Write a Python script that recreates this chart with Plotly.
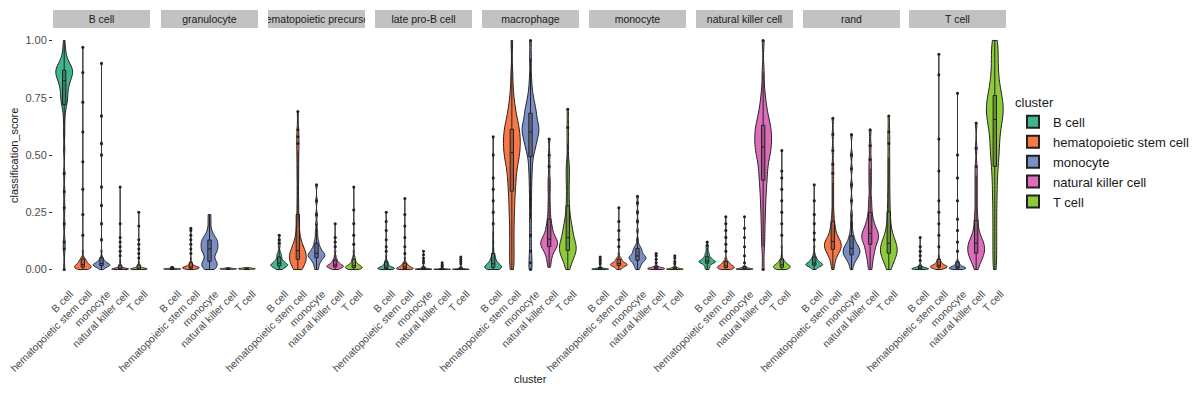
import numpy as np
import plotly.graph_objects as go

# ---------------- data ----------------
clusters = ["B cell", "hematopoietic stem cell", "monocyte", "natural killer cell", "T cell"]
facets = ["B cell", "granulocyte", "hematopoietic precursor", "late pro-B cell",
          "macrophage", "monocyte", "natural killer cell", "rand", "T cell"]
colors = ["#3FB68B", "#FA7747", "#7B8EC6", "#DE6CBA", "#8DCB3B"]
y_tickvals = [0, 0.25, 0.5, 0.75, 1.0]
y_ticktext = ["0.00", "0.25", "0.50", "0.75", "1.00"]

# facet "B cell"
bc_B = [0.0, 0.09, 0.12, 0.2, 0.27, 0.34, 0.42, 0.52, 0.6, 0.66, 0.7, 0.72, 0.73, 0.74, 0.75, 0.76,
        0.77, 0.78, 0.79, 0.8, 0.81, 0.82, 0.82, 0.83, 0.83, 0.84, 0.84, 0.85, 0.85, 0.86, 0.86, 0.86,
        0.87, 0.87, 0.87, 0.88, 0.88, 0.88, 0.89, 0.89, 0.9, 0.91, 0.92, 0.94, 0.96, 1.0]
bc_H = [0.0, 0.001, 0.002, 0.003, 0.004, 0.005, 0.006, 0.007, 0.008, 0.009, 0.01, 0.011, 0.012, 0.013,
        0.014, 0.015, 0.016, 0.017, 0.018, 0.019, 0.02, 0.021, 0.022, 0.024, 0.026, 0.028, 0.03, 0.032,
        0.034, 0.036, 0.038, 0.04, 0.043, 0.046, 0.05, 0.055,
        0.08, 0.15, 0.24, 0.35, 0.47, 0.6, 0.73, 0.86, 0.97]
bc_M = [0.0, 0.003, 0.006, 0.008, 0.01, 0.012, 0.013, 0.014, 0.015, 0.016, 0.017, 0.018, 0.019, 0.02,
        0.02, 0.021, 0.022, 0.023, 0.024, 0.025, 0.026, 0.027, 0.028, 0.03, 0.032, 0.034, 0.036, 0.038,
        0.041, 0.045, 0.05, 0.058,
        0.08, 0.13, 0.2, 0.28, 0.36, 0.5, 0.55, 0.67, 0.9]
bc_N = [0.0, 0.0, 0.0, 0.0005, 0.0005, 0.001, 0.001, 0.001, 0.0015, 0.0015, 0.002, 0.002, 0.002,
        0.0025, 0.003, 0.003, 0.0035, 0.004, 0.004, 0.005, 0.005, 0.006, 0.007, 0.008, 0.009, 0.01,
        0.012, 0.015, 0.02, 0.03,
        0.045, 0.06, 0.08, 0.1, 0.12, 0.14, 0.2, 0.36]
bc_T = [0.0, 0.0, 0.0005, 0.0005, 0.001, 0.001, 0.0015, 0.0015, 0.002, 0.002, 0.0025, 0.0025, 0.003,
        0.003, 0.0035, 0.004, 0.004, 0.0045, 0.005, 0.0055, 0.006, 0.007, 0.008, 0.009, 0.01, 0.012,
        0.014, 0.017, 0.02, 0.025,
        0.035, 0.05, 0.07, 0.09, 0.11, 0.13, 0.19, 0.25]

# facet "granulocyte"
gr_B = [0.0, 0.0005, 0.001, 0.001, 0.0015, 0.0015, 0.002, 0.002, 0.002, 0.0025, 0.0025, 0.003, 0.003,
        0.003, 0.0035, 0.0035, 0.004, 0.004, 0.0045, 0.005, 0.005, 0.006, 0.007, 0.008, 0.01]
gr_H = [0.0, 0.001, 0.002, 0.003, 0.004, 0.004, 0.005, 0.005, 0.006, 0.006, 0.007, 0.007, 0.008, 0.008,
        0.009, 0.009, 0.01, 0.01, 0.011, 0.012, 0.013, 0.014, 0.015, 0.016, 0.018, 0.02, 0.022, 0.025,
        0.03, 0.035,
        0.05, 0.07, 0.09, 0.11, 0.13, 0.15, 0.17, 0.18]
gr_M = [0.0, 0.005, 0.01, 0.015, 0.02, 0.025, 0.03, 0.035, 0.04, 0.05, 0.06, 0.07, 0.075, 0.08, 0.085,
        0.09, 0.095, 0.1, 0.105, 0.11, 0.115, 0.12, 0.125, 0.13, 0.135, 0.14, 0.15, 0.16, 0.18, 0.21, 0.24]
gr_N = [0.0, 0.0005, 0.001, 0.001, 0.0015, 0.0015, 0.002, 0.002, 0.0025, 0.0025, 0.003, 0.003, 0.003,
        0.0035, 0.0035, 0.004, 0.004, 0.0045, 0.005, 0.005, 0.0055, 0.006, 0.0065, 0.007, 0.008]
gr_T = [0.0, 0.0005, 0.001, 0.0015, 0.0015, 0.002, 0.002, 0.0025, 0.0025, 0.003, 0.003, 0.0035, 0.0035,
        0.004, 0.004, 0.0045, 0.0045, 0.005, 0.005, 0.0055, 0.006, 0.0065, 0.007, 0.0075, 0.008]

# facet "hematopoietic precursor"
hp_B = [0.0, 0.002, 0.005, 0.008, 0.01, 0.012, 0.014, 0.015, 0.016, 0.018, 0.019, 0.02, 0.021, 0.022,
        0.023, 0.025, 0.027, 0.029, 0.031, 0.033, 0.035, 0.038, 0.041, 0.045, 0.05, 0.055, 0.06, 0.065,
        0.07, 0.08,
        0.1, 0.115, 0.13, 0.15]
hp_H = [0.0, 0.005, 0.01, 0.015, 0.02, 0.025, 0.03, 0.033, 0.036, 0.04, 0.043, 0.046, 0.05, 0.053,
        0.056, 0.06, 0.063, 0.066, 0.07, 0.073, 0.076, 0.08, 0.085, 0.09, 0.095, 0.1, 0.11, 0.12, 0.13,
        0.15, 0.17, 0.19, 0.22, 0.26, 0.3, 0.35, 0.4, 0.44, 0.48, 0.52, 0.55, 0.58, 0.61, 0.69]
hp_M = [0.0, 0.01, 0.02, 0.03, 0.035, 0.04, 0.045, 0.05, 0.052, 0.055, 0.058, 0.06, 0.062, 0.065, 0.068,
        0.07, 0.072, 0.075, 0.08, 0.085, 0.09, 0.095, 0.1, 0.11, 0.12, 0.13, 0.15, 0.17,
        0.2, 0.24, 0.3, 0.37]
hp_N = [0.0, 0.002, 0.004, 0.006, 0.008, 0.009, 0.01, 0.011, 0.012, 0.013, 0.014, 0.015, 0.016, 0.017,
        0.018, 0.019, 0.02, 0.022, 0.024, 0.026, 0.028, 0.03, 0.033, 0.036, 0.04, 0.045, 0.05, 0.06,
        0.08, 0.1, 0.12, 0.14, 0.2]
hp_T = [0.0, 0.001, 0.002, 0.003, 0.004, 0.005, 0.006, 0.007, 0.008, 0.009, 0.01, 0.011, 0.012, 0.013,
        0.014, 0.015, 0.016, 0.018, 0.02, 0.022, 0.024, 0.026, 0.03, 0.034, 0.04, 0.045, 0.05, 0.06,
        0.08, 0.11, 0.15, 0.2, 0.26, 0.36]

# facet "late pro-B cell"
lp_B = [0.0, 0.0005, 0.001, 0.0015, 0.002, 0.0025, 0.003, 0.0035, 0.004, 0.0045, 0.005, 0.0055, 0.006,
        0.0065, 0.007, 0.008, 0.009, 0.01, 0.011, 0.012, 0.014, 0.016, 0.018, 0.02, 0.022, 0.025, 0.028,
        0.032, 0.036, 0.04,
        0.06, 0.08, 0.1, 0.13, 0.17, 0.21, 0.25]
lp_H = [0.0, 0.0005, 0.001, 0.0015, 0.002, 0.0025, 0.003, 0.0035, 0.004, 0.0045, 0.005, 0.0055, 0.006,
        0.007, 0.008, 0.009, 0.01, 0.011, 0.012, 0.013, 0.014, 0.015, 0.016, 0.018, 0.02, 0.022, 0.024,
        0.027, 0.03, 0.035,
        0.05, 0.07, 0.1, 0.14, 0.19, 0.24, 0.31]
lp_M = [0.0, 0.0, 0.0002, 0.0004, 0.0006, 0.0008, 0.001, 0.001, 0.0012, 0.0014, 0.0016, 0.0018, 0.002,
        0.002, 0.0025, 0.003, 0.0035, 0.004, 0.0045, 0.005, 0.006, 0.007, 0.008, 0.01, 0.012, 0.015,
        0.02, 0.03, 0.04, 0.05, 0.065, 0.08]
lp_N = [0.0, 0.0, 0.0002, 0.0004, 0.0006, 0.0008, 0.001, 0.001, 0.0012, 0.0014, 0.0016, 0.0018, 0.002,
        0.002, 0.0022, 0.0025, 0.003, 0.0035, 0.004, 0.0045, 0.005, 0.006, 0.008, 0.01, 0.015, 0.02, 0.03]
lp_T = [0.0, 0.0, 0.0002, 0.0004, 0.0006, 0.0008, 0.001, 0.001, 0.0012, 0.0014, 0.0016, 0.0018, 0.002,
        0.0022, 0.0025, 0.003, 0.0035, 0.004, 0.0045, 0.005, 0.006, 0.007, 0.009, 0.012, 0.015, 0.025,
        0.035, 0.045, 0.055]

# facet "macrophage"
ma_B = [0.0, 0.001, 0.002, 0.003, 0.004, 0.005, 0.006, 0.007, 0.008, 0.009, 0.01, 0.011, 0.012, 0.013,
        0.014, 0.015, 0.016, 0.018, 0.02, 0.022, 0.024, 0.026, 0.028, 0.03, 0.033, 0.036, 0.04, 0.045,
        0.05, 0.055, 0.06, 0.07,
        0.09, 0.12, 0.16, 0.2, 0.25, 0.3, 0.35, 0.4, 0.5, 0.58]
ma_H = [0.0, 0.03, 0.07, 0.11, 0.15, 0.19, 0.23, 0.26, 0.29, 0.32, 0.35, 0.37, 0.39, 0.41, 0.43, 0.45,
        0.47, 0.48, 0.49, 0.5, 0.51, 0.52, 0.53, 0.54, 0.55, 0.56, 0.57, 0.58, 0.59, 0.6, 0.61, 0.62,
        0.63, 0.64, 0.66, 0.68, 0.7, 0.73, 0.77, 0.85, 1.0]
ma_M = [0.0, 0.03, 0.08, 0.15, 0.22, 0.29, 0.35, 0.4, 0.44, 0.47, 0.5, 0.52, 0.53, 0.54, 0.55, 0.56,
        0.57, 0.58, 0.59, 0.6, 0.6, 0.61, 0.61, 0.62, 0.62, 0.63, 0.64, 0.65, 0.66, 0.67, 0.68, 0.69,
        0.7, 0.71, 0.72, 0.74, 0.76, 0.79, 0.84, 0.92, 1.0]
ma_N = [0.01, 0.03, 0.045, 0.06, 0.07, 0.08, 0.085, 0.09, 0.095, 0.1, 0.103, 0.106, 0.11, 0.113, 0.116,
        0.12, 0.123, 0.126, 0.13, 0.135, 0.14, 0.145, 0.15, 0.16, 0.17, 0.18, 0.19, 0.2, 0.22, 0.24,
        0.27, 0.3, 0.34, 0.37, 0.4, 0.45, 0.5, 0.57]
ma_T = [0.0, 0.02, 0.035, 0.05, 0.06, 0.065, 0.07, 0.075, 0.08, 0.085, 0.09, 0.095, 0.1, 0.105, 0.11,
        0.115, 0.12, 0.13, 0.14, 0.15, 0.16, 0.17, 0.18, 0.19, 0.2, 0.22, 0.24, 0.27, 0.3, 0.34,
        0.38, 0.41, 0.44, 0.47, 0.55, 0.62, 0.7]

# facet "monocyte"
mo_B = [0.0, 0.0, 0.0003, 0.0006, 0.0009, 0.0012, 0.0015, 0.0018, 0.002, 0.0022, 0.0025, 0.0028,
        0.003, 0.0033, 0.0036, 0.004, 0.0045, 0.005, 0.0055, 0.006, 0.007, 0.008, 0.01, 0.012,
        0.015, 0.025, 0.035, 0.045, 0.055]
mo_H = [0.0, 0.003, 0.006, 0.009, 0.011, 0.013, 0.015, 0.016, 0.017, 0.018, 0.019, 0.02, 0.021, 0.022,
        0.023, 0.024, 0.025, 0.026, 0.027, 0.028, 0.03, 0.032, 0.034, 0.036, 0.038, 0.041, 0.044,
        0.047, 0.05, 0.055,
        0.07, 0.1, 0.13, 0.17, 0.21, 0.27]
mo_M = [0.0, 0.008, 0.015, 0.02, 0.025, 0.03, 0.033, 0.036, 0.039, 0.042, 0.044, 0.046, 0.048, 0.05,
        0.052, 0.054, 0.056, 0.058, 0.06, 0.063, 0.066, 0.07, 0.074, 0.078, 0.082, 0.086, 0.09, 0.095,
        0.1, 0.11,
        0.13, 0.17, 0.21, 0.25, 0.29, 0.32]
mo_N = [0.0, 0.0, 0.0005, 0.001, 0.0015, 0.002, 0.0025, 0.003, 0.0035, 0.004, 0.0045, 0.005, 0.0055,
        0.006, 0.0065, 0.007, 0.0075, 0.008, 0.009, 0.01, 0.011, 0.012, 0.014, 0.016, 0.02,
        0.03, 0.045, 0.06, 0.07]
mo_T = [0.0, 0.0, 0.0003, 0.0006, 0.0009, 0.0012, 0.0015, 0.0018, 0.002, 0.0023, 0.0026, 0.003,
        0.0035, 0.004, 0.0045, 0.005, 0.0055, 0.006, 0.007, 0.008, 0.009, 0.011, 0.013,
        0.015, 0.025, 0.035, 0.05, 0.06]

# facet "natural killer cell"
nk_B = [0.0, 0.005, 0.01, 0.014, 0.018, 0.021, 0.024, 0.026, 0.028, 0.03, 0.031, 0.032, 0.033, 0.034,
        0.035, 0.036, 0.037, 0.038, 0.04, 0.042, 0.044, 0.046, 0.048, 0.05, 0.053, 0.056, 0.06, 0.065,
        0.07, 0.075,
        0.085, 0.095, 0.105, 0.12]
nk_H = [0.0, 0.001, 0.002, 0.003, 0.004, 0.005, 0.006, 0.007, 0.008, 0.009, 0.01, 0.011, 0.012, 0.013,
        0.014, 0.015, 0.016, 0.017, 0.018, 0.02, 0.022, 0.024, 0.026, 0.028, 0.03, 0.033, 0.036, 0.04,
        0.05, 0.08, 0.11, 0.14, 0.17, 0.2, 0.23]
nk_M = [0.0, 0.0, 0.0003, 0.0006, 0.0009, 0.0012, 0.0015, 0.0018, 0.002, 0.0023, 0.0026, 0.003,
        0.0035, 0.004, 0.0045, 0.005, 0.0055, 0.006, 0.007, 0.008, 0.009, 0.011, 0.013, 0.016,
        0.03, 0.06, 0.1, 0.14, 0.18, 0.23]
nk_N = [0.0, 0.1, 0.15, 0.2, 0.24, 0.28, 0.31, 0.34, 0.37, 0.39, 0.41, 0.43, 0.45, 0.47, 0.49, 0.5,
        0.51, 0.52, 0.53, 0.54, 0.55, 0.56, 0.57, 0.58, 0.59, 0.6, 0.61, 0.62, 0.63, 0.64, 0.65, 0.67,
        0.69, 0.71, 0.74, 0.78, 0.86, 1.0]
nk_T = [0.0, 0.001, 0.002, 0.003, 0.004, 0.005, 0.006, 0.007, 0.008, 0.009, 0.01, 0.011, 0.012, 0.013,
        0.014, 0.015, 0.016, 0.017, 0.018, 0.019, 0.02, 0.021, 0.022, 0.024, 0.026, 0.028, 0.03, 0.032,
        0.035, 0.038, 0.042, 0.046,
        0.06, 0.1, 0.15, 0.2, 0.25, 0.3, 0.35, 0.4, 0.43, 0.52]

# facet "rand"
ra_B = [0.0, 0.004, 0.008, 0.011, 0.013, 0.015, 0.016, 0.017, 0.018, 0.019, 0.02, 0.021, 0.022, 0.023,
        0.024, 0.025, 0.026, 0.027, 0.028, 0.03, 0.032, 0.034, 0.036, 0.038, 0.04, 0.043, 0.046, 0.05,
        0.055, 0.06,
        0.07, 0.1, 0.13, 0.16, 0.2, 0.24, 0.3, 0.37]
ra_H = [0.0, 0.02, 0.035, 0.05, 0.06, 0.065, 0.07, 0.075, 0.08, 0.085, 0.088, 0.09, 0.095, 0.098, 0.1,
        0.105, 0.108, 0.11, 0.115, 0.118, 0.12, 0.125, 0.128, 0.13, 0.135, 0.14, 0.15, 0.16, 0.17, 0.18,
        0.19, 0.21, 0.23, 0.26,
        0.3, 0.34, 0.38, 0.42, 0.46, 0.52, 0.59, 0.66]
ra_M = [0.0, 0.02, 0.03, 0.04, 0.045, 0.05, 0.055, 0.06, 0.063, 0.066, 0.07, 0.073, 0.076, 0.08, 0.083,
        0.086, 0.09, 0.093, 0.096, 0.1, 0.105, 0.11, 0.115, 0.12, 0.13, 0.14, 0.15, 0.17, 0.2,
        0.24, 0.3, 0.37, 0.44, 0.5, 0.59]
ra_N = [0.0, 0.02, 0.04, 0.06, 0.07, 0.08, 0.09, 0.1, 0.11, 0.12, 0.125, 0.13, 0.135, 0.14, 0.145,
        0.15, 0.155, 0.16, 0.165, 0.17, 0.18, 0.19, 0.2, 0.21, 0.23, 0.25, 0.28, 0.31,
        0.36, 0.4, 0.44, 0.48, 0.54, 0.61]
ra_T = [0.0, 0.015, 0.03, 0.04, 0.05, 0.055, 0.06, 0.065, 0.07, 0.075, 0.08, 0.085, 0.09, 0.095, 0.1,
        0.105, 0.11, 0.115, 0.12, 0.13, 0.14, 0.15, 0.16, 0.18, 0.2, 0.23, 0.26, 0.3,
        0.34, 0.39, 0.44, 0.49, 0.55, 0.6, 0.67]

# facet "T cell"
tc_B = [0.0, 0.0, 0.0005, 0.001, 0.0015, 0.002, 0.0025, 0.003, 0.0035, 0.004, 0.0045, 0.005, 0.0055,
        0.006, 0.0065, 0.007, 0.008, 0.009, 0.01, 0.011, 0.013, 0.015, 0.018, 0.022,
        0.04, 0.06, 0.08, 0.1, 0.14]
tc_H = [0.0, 0.002, 0.004, 0.005, 0.006, 0.007, 0.008, 0.009, 0.01, 0.01, 0.011, 0.011, 0.012, 0.012,
        0.013, 0.013, 0.014, 0.015, 0.016, 0.017, 0.018, 0.019, 0.02, 0.022, 0.024, 0.026, 0.028, 0.03,
        0.033, 0.036, 0.04, 0.045,
        0.06, 0.1, 0.15, 0.2, 0.25, 0.3, 0.43, 0.57, 0.85, 0.94]
tc_M = [0.0, 0.001, 0.002, 0.003, 0.003, 0.004, 0.004, 0.005, 0.005, 0.006, 0.006, 0.007, 0.007, 0.008,
        0.008, 0.009, 0.01, 0.011, 0.012, 0.013, 0.014, 0.016, 0.018, 0.02, 0.022, 0.025, 0.028, 0.032,
        0.04, 0.08, 0.12, 0.17, 0.22, 0.3, 0.4, 0.5, 0.77]
tc_N = [0.0, 0.02, 0.03, 0.04, 0.05, 0.055, 0.06, 0.065, 0.07, 0.075, 0.08, 0.085, 0.09, 0.095, 0.1,
        0.105, 0.11, 0.115, 0.12, 0.125, 0.13, 0.14, 0.15, 0.16, 0.18, 0.2, 0.22, 0.25,
        0.29, 0.33, 0.37, 0.41, 0.45, 0.53, 0.64]
tc_T = [0.0, 0.05, 0.1, 0.15, 0.2, 0.25, 0.3, 0.34, 0.38, 0.42, 0.45, 0.48, 0.5, 0.52, 0.54, 0.56,
        0.58, 0.6, 0.62, 0.64, 0.65, 0.66, 0.67, 0.68, 0.69, 0.7, 0.71, 0.72, 0.73, 0.74, 0.75, 0.76,
        0.78, 0.8, 0.82, 0.84, 0.87, 0.9, 0.93, 0.96, 0.98, 1.0]

facet_values = [
    [bc_B, bc_H, bc_M, bc_N, bc_T],
    [gr_B, gr_H, gr_M, gr_N, gr_T],
    [hp_B, hp_H, hp_M, hp_N, hp_T],
    [lp_B, lp_H, lp_M, lp_N, lp_T],
    [ma_B, ma_H, ma_M, ma_N, ma_T],
    [mo_B, mo_H, mo_M, mo_N, mo_T],
    [nk_B, nk_H, nk_M, nk_N, nk_T],
    [ra_B, ra_H, ra_M, ra_N, ra_T],
    [tc_B, tc_H, tc_M, tc_N, tc_T],
]


def nrd0_bandwidth(v, n_eff=1000):
    """ggplot-like (bw.nrd0) bandwidth, evaluated as for a large cell population."""
    a = np.asarray(v, dtype=float)
    sd = a.std(ddof=1)
    iqr = np.subtract(*np.percentile(a, [75, 25]))
    lo = min(sd, iqr / 1.34) if iqr > 0 else sd
    return max(0.9 * lo * n_eff ** -0.2, 2e-4)


# ---------------- layout geometry (pixels, page shifted by 8px body margin) ----------------
W, H = 1200, 400
OFF = 8
PL, PR, PT, PB = 53 - OFF, 1006 - OFF, 28.5 - OFF, 281.5 - OFF
ML, MR, MT, MB = PL, W - PR, PT, H - PB
PW = PR - PL
PH = PB - PT
panel_left = [53, 161, 268, 375, 482, 589, 696, 803, 909]
panel_w = 97

FONT = "Liberation Sans, Arial, sans-serif"
LINE = "#222222"

fig = go.Figure()
layout_axes = {}
annotations = []
for i, (fname, vals) in enumerate(zip(facets, facet_values)):
    xa = "x" if i == 0 else f"x{i+1}"
    for j, cl in enumerate(clusters):
        fig.add_trace(go.Violin(
            x0=cl, y=vals[j], name=cl, legendgroup=cl, showlegend=(i == 0),
            xaxis=xa, yaxis="y",
            width=0.9, spanmode="hard", scalemode="width",
            bandwidth=nrd0_bandwidth(vals[j]),
            fillcolor=colors[j], opacity=1,
            line=dict(color=LINE, width=1),
            box=dict(visible=True, width=0.2, fillcolor="rgba(34,34,34,0.35)",
                     line=dict(color=LINE, width=1)),
            meanline=dict(visible=False),
            points="outliers", pointpos=0, jitter=0,
            marker=dict(color=LINE, size=3, line=dict(width=0)),
            hoverinfo="skip",
        ))
    left = panel_left[i] - OFF
    d0 = (left - PL) / PW
    d1 = (left + panel_w - PL) / PW
    key = "xaxis" if i == 0 else f"xaxis{i+1}"
    layout_axes[key] = dict(
        domain=[d0, d1], anchor="y", type="category",
        categoryorder="array", categoryarray=clusters,
        range=[-0.6, 4.6], showgrid=False, zeroline=False, showline=False,
        ticks="", tickangle=-45, ticklabelshift=6, ticklabelstandoff=4,
        tickfont=dict(size=10.5, color="#4D4D4D", family=FONT),
        fixedrange=True,
    )
    annotations.append(dict(
        text=fname, xref=f"{xa} domain", x=0.5, yref="paper",
        y=(PB - (18 - OFF)) / PH, xanchor="center", yanchor="middle",
        showarrow=False, width=panel_w, height=18, bgcolor="#C2C2C2",
        borderpad=0, borderwidth=0, font=dict(size=10.5, color="#1A1A1A", family=FONT),
    ))

annotations.append(dict(
    text="cluster", xref="paper", x=(530 - OFF - PL) / PW, yref="paper", y=(PB - (380 - OFF)) / PH,
    xanchor="center", yanchor="middle", showarrow=False,
    font=dict(size=11, color="#1A1A1A", family=FONT)))
annotations.append(dict(
    text="classification_score", xref="paper", x=(14 - OFF - PL) / PW, yref="paper",
    y=(PB - (156 - OFF)) / PH, xanchor="center", yanchor="middle", textangle=-90,
    showarrow=False, font=dict(size=11, color="#1A1A1A", family=FONT)))

fig.update_layout(
    width=W, height=H,
    margin=dict(l=ML, r=MR, t=MT, b=MB, autoexpand=False),
    paper_bgcolor="white", plot_bgcolor="white",
    violinmode="overlay",
    font=dict(family=FONT, color="#1A1A1A"),
    yaxis=dict(range=[-0.05, 1.05], tickvals=y_tickvals, ticktext=y_ticktext,
               showgrid=False, zeroline=False, showline=False, ticks="outside",
               ticklen=3, tickcolor="#333333", tickwidth=1,
               tickfont=dict(size=11, color="#4D4D4D", family=FONT),
               anchor="x", fixedrange=True),
    legend=dict(title=dict(text="cluster", font=dict(size=13, family=FONT)),
                xref="container", yref="container", x=(1013 - OFF) / W, y=1 - (90 - OFF) / H,
                xanchor="left", yanchor="top", font=dict(size=13, family=FONT),
                tracegroupgap=0, itemsizing="constant", bgcolor="rgba(0,0,0,0)"),
    annotations=annotations,
    showlegend=True,
    **layout_axes,
)

fig.write_html("out.html")
